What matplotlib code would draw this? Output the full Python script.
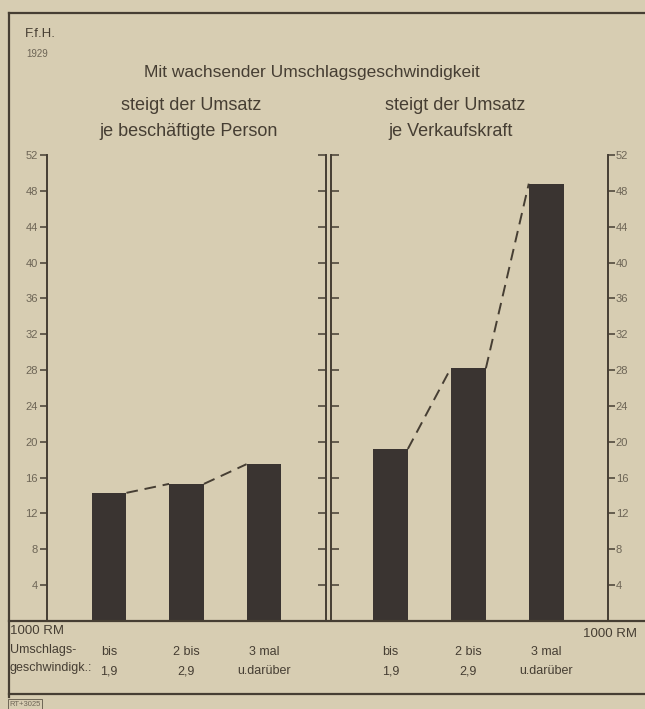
import matplotlib
matplotlib.use('Agg')
import matplotlib.pyplot as plt
from matplotlib.lines import Line2D
from matplotlib.transforms import blended_transform_factory

# Werte (1000 RM)
umsatz_person = [14.3, 15.3, 17.5]
umsatz_verkaufskraft = [19.2, 28.2, 48.8]
kat_zeile1 = ['bis', '2 bis', '3 mal']
kat_zeile2 = ['1,9', '2,9', 'u.darüber']
y_ticks = list(range(4, 53, 4))

plt.rcParams['font.family'] = ['Liberation Sans', 'DejaVu Sans']

bg = '#d7cdb2'
ink = '#463e33'
bar_col = '#3a3431'
tick_col = '#6d6556'

W, H = 645, 709
fig = plt.figure(figsize=(W / 100, H / 100), dpi=100)
fig.patch.set_facecolor(bg)


def fx(x):
    return x / W


def fy(y):
    return 1 - y / H


# Rahmen und Grundlinie
def hline(x0, x1, y, lw=1.6):
    fig.add_artist(Line2D([fx(x0), fx(x1)], [fy(y), fy(y)], color=ink, lw=lw))


hline(9, 645, 13)
hline(9, 645, 621)
hline(9, 645, 694)
fig.add_artist(Line2D([fx(9), fx(9)], [fy(13), fy(697)], color=ink, lw=1.6))

base = (H - 621) / H
hgt = 466 / H
ax1 = fig.add_axes([fx(47), base, 279 / W, hgt])
ax2 = fig.add_axes([fx(331), base, 277 / W, hgt])
ax1.set_xlim(-0.8, 2.8)
ax2.set_xlim(-0.76, 2.79)

bw = 0.45
for ax, vals in [(ax1, umsatz_person), (ax2, umsatz_verkaufskraft)]:
    ax.set_facecolor('none')
    ax.set_ylim(0, 52)
    ax.bar(range(3), vals, width=bw, color=bar_col, zorder=3)
    for i in range(2):
        ax.plot([i + bw / 2, i + 1 - bw / 2], [vals[i], vals[i + 1]],
                color=ink, lw=1.4, ls=(0, (6, 3.5)), zorder=2)
    ax.set_xticks([])
    for s in ['top', 'bottom', 'right']:
        ax.spines[s].set_visible(False)
    ax.spines['left'].set_color(ink)
    ax.spines['left'].set_linewidth(1.4)
    ax.set_yticks(y_ticks)
    tr = blended_transform_factory(ax.transData, fig.transFigure)
    for i in range(3):
        ax.text(i, fy(652), kat_zeile1[i], transform=tr, ha='center',
                va='center', fontsize=9, color=ink)
        ax.text(i, fy(671), kat_zeile2[i], transform=tr, ha='center',
                va='center', fontsize=9, color=ink)

# linke Skala
ax1.tick_params(axis='y', direction='out', length=5, width=1.1, color=ink,
                labelsize=8, labelcolor=tick_col, pad=1.5)
ax2.tick_params(axis='y', direction='in', length=6, width=1.1, color=ink,
                labelleft=False)

# mittlere Linie links und rechte Skala
ax1r = ax1.twinx()
ax2r = ax2.twinx()
for axr in [ax1r, ax2r]:
    axr.set_ylim(0, 52)
    axr.set_yticks(y_ticks)
    for s in ['top', 'bottom', 'left']:
        axr.spines[s].set_visible(False)
    axr.spines['right'].set_color(ink)
    axr.spines['right'].set_linewidth(1.4)
ax1r.tick_params(axis='y', direction='in', length=6, width=1.1, color=ink,
                 labelright=False)
ax2r.tick_params(axis='y', direction='out', length=5, width=1.1, color=ink,
                 labelsize=8, labelcolor=tick_col, pad=0.5)

# Texte
fig.text(fx(312), fy(72), 'Mit wachsender Umschlagsgeschwindigkeit',
         ha='center', va='center', fontsize=12.5, color=ink)
fig.text(fx(191), fy(106), 'steigt der Umsatz', ha='center', va='center',
         fontsize=13, color=ink)
fig.text(fx(189), fy(131), 'je beschäftigte Person', ha='center',
         va='center', fontsize=13, color=ink)
fig.text(fx(455), fy(106), 'steigt der Umsatz', ha='center', va='center',
         fontsize=13, color=ink)
fig.text(fx(451), fy(131), 'je Verkaufskraft', ha='center', va='center',
         fontsize=13, color=ink)

fig.text(fx(25), fy(34), 'F.f.H.', ha='left', va='center', fontsize=9.5,
         color=ink)
fig.text(fx(26), fy(54), '1929', ha='left', va='center', fontsize=7,
         color=tick_col)

fig.text(fx(10), fy(631), '1000 RM', ha='left', va='center', fontsize=9.5,
         color=ink)
fig.text(fx(10), fy(650), 'Umschlags-', ha='left', va='center', fontsize=9,
         color=ink)
fig.text(fx(10), fy(668), 'geschwindigk.:', ha='left', va='center',
         fontsize=9, color=ink)
fig.text(fx(637), fy(634), '1000 RM', ha='right', va='center', fontsize=9.5,
         color=ink)

fig.text(fx(9), fy(704), 'RT+3025', ha='left', va='center', fontsize=5.5,
         color=tick_col,
         bbox=dict(boxstyle='square,pad=0.15', fc='none', ec=tick_col, lw=0.7))

fig.savefig('out.png', dpi=100, facecolor=bg)
